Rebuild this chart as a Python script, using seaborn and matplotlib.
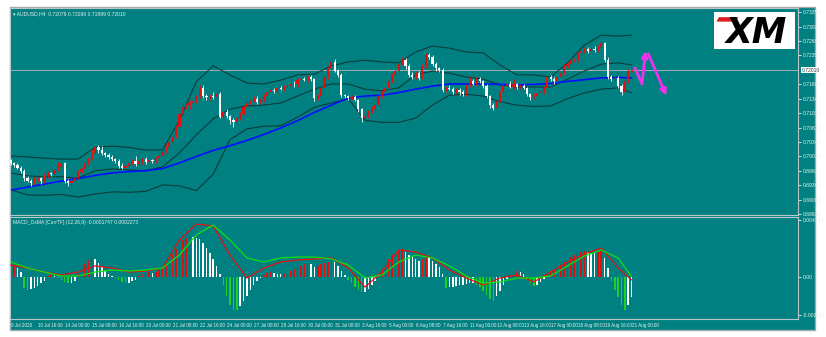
import numpy as np
import pandas as pd
import matplotlib
matplotlib.use("Agg")
import matplotlib.pyplot as plt
import seaborn as sns
from matplotlib.patches import Rectangle, Polygon

# ---------------- data (prices in pips = 1e-4) ----------------
open0 = 6992
closes = [6986,6982,6975,6968,6950,6945,6940,6948,6950,6944,6955,6963,6960,6970,6977,6985,6945,6940,6945,6952,
          6965,6972,6985,6995,7010,7023,7015,7009,7005,7000,6995,6990,6980,6975,6978,6985,6990,6983,6990,6995,
          6988,6992,6990,6998,7003,7012,7023,7035,7046,7070,7100,7116,7120,7125,7130,7140,7160,7140,7138,7142,
          7139,7145,7092,7105,7095,7085,7080,7090,7100,7115,7125,7130,7135,7128,7132,7140,7150,7155,7152,7160,
          7158,7162,7165,7170,7168,7178,7180,7178,7185,7180,7136,7140,7160,7185,7205,7220,7200,7190,7143,7140,
          7136,7138,7132,7110,7090,7095,7105,7112,7120,7140,7150,7160,7175,7190,7200,7215,7224,7210,7190,7185,
          7195,7183,7210,7236,7231,7215,7205,7201,7155,7160,7158,7150,7155,7150,7145,7165,7175,7170,7180,7175,
          7165,7140,7120,7113,7130,7150,7165,7170,7162,7168,7162,7165,7160,7145,7139,7142,7148,7150,7160,7185,
          7180,7175,7185,7195,7210,7215,7224,7225,7240,7245,7250,7245,7250,7248,7255,7264,7225,7185,7180,7183,
          7165,7150,7175,7200,7201]
wick_up = [4,3,5,3,4,6,3,5,4,3,8,4,3,5,12,6,4,3,5,4,
           5,4,6,5,8,5,4,10,3,4,5,3,4,6,3,4,5,12,4,3,
           4,5,3,4,5,3,6,4,5,4,5,8,4,6,5,4,7,6,5,4,
           8,5,6,4,5,3,4,4,5,6,4,3,5,6,4,5,3,6,4,5,
           4,5,6,4,7,5,4,6,4,5,3,5,4,6,4,5,6,4,5,3,
           4,5,6,3,4,6,4,5,4,6,5,4,4,5,6,5,7,4,5,6,
           4,5,6,5,4,5,4,3,5,4,6,4,5,4,6,4,12,5,4,5,
           4,3,4,5,6,4,5,4,5,12,4,5,4,3,4,5,6,4,5,4,
           5,4,5,4,6,5,4,5,4,6,4,5,4,6,4,5,3,6,4,5,
           4,3,5,4,3]
wick_dn = [4,5,3,6,5,4,8,4,5,6,4,3,5,4,3,5,6,8,4,5,
           4,3,5,4,3,4,5,4,6,5,4,3,5,4,6,4,3,5,4,6,
           5,4,3,5,4,3,4,5,4,3,5,4,6,8,5,4,3,4,5,6,
           4,5,3,6,5,8,10,5,4,3,5,4,3,5,6,4,5,3,4,5,
           4,5,3,4,5,6,4,3,5,4,6,5,4,3,4,5,4,6,5,4,
           5,4,3,6,8,5,4,3,5,4,3,5,4,3,4,5,3,6,4,5,
           4,5,3,4,5,4,6,4,5,4,3,5,4,6,5,4,3,4,5,4,
           5,4,6,5,4,3,4,5,3,4,5,4,3,5,6,4,5,3,4,5,
           4,5,3,4,5,4,3,5,4,3,4,5,3,4,5,4,6,5,4,5,
           5,6,10,4,3]
# indicator lines, sampled every 5 bars (last at bar 184)
line_idx = list(range(0, 185, 5)) + [184]
bb_upper = [7002,7000,6997,6995,6995,7022,7025,7022,7016,7016,7085,7174,7211,7190,7171,7169,7178,7190,7192,7211,
            7220,7224,7220,7218,7243,7257,7252,7243,7241,7213,7190,7190,7185,7218,7259,7282,7280,7282]
bb_mid = [6963,6956,6954,6954,6951,6968,6972,6970,6968,6977,7009,7051,7088,7111,7118,7120,7125,7141,7157,7169,
          7169,7157,7153,7160,7190,7199,7194,7185,7180,7167,7162,7162,7162,7180,7199,7215,7218,7213]
bb_lower = [6924,6912,6911,6913,6907,6914,6919,6918,6920,6935,6933,6922,6960,7040,7065,7071,7072,7092,7115,7125,
            7135,7085,7080,7080,7090,7120,7143,7145,7141,7128,7120,7117,7118,7135,7148,7157,7160,7148]
ma_blue = [6923,6930,6937,6944,6950,6957,6963,6966,6968,6973,6986,7001,7015,7026,7038,7052,7067,7084,7103,7120,
           7136,7141,7143,7149,7157,7164,7169,7169,7169,7168,7167,7168,7170,7175,7179,7183,7184,7183]
# MACD panel (units 1e-5)
macd_hist = [60,90,70,40,-90,-100,-95,-85,-70,-50,-30,10,20,10,-10,-25,-40,-50,-45,-30,
             20,60,100,130,150,140,110,80,50,25,5,-10,-25,-40,-50,-45,-35,-20,10,20,
             30,40,30,40,55,70,100,140,180,220,260,290,310,320,315,310,300,270,230,190,
             140,90,20,-60,-150,-220,-260,-260,-230,-190,-150,-100,-60,-30,-5,15,30,40,35,25,
             20,25,35,50,65,80,90,100,110,100,80,90,100,110,120,130,115,90,50,15,
             -25,-50,-80,-105,-120,-115,-95,-65,-30,20,60,100,140,170,195,210,220,200,175,155,
             140,125,140,160,150,125,100,80,20,-90,-80,-75,-70,-65,-60,-55,-50,-45,-60,-80,
             -110,-140,-170,-190,-150,-110,-60,-15,15,40,50,40,25,-20,-50,-70,-60,-40,-15,25,
             45,60,75,95,115,135,155,170,185,195,205,200,190,185,195,210,150,70,-30,-100,
             -160,-220,-260,-220,-160]
macd_main = [94,71,39,16,39,87,71,39,47,71,291,417,401,173,-8,71,118,134,142,150,
             71,-79,39,212,197,150,55,-8,-63,-8,16,-39,39,118,181,228,71,-24]
macd_signal = [118,71,39,8,8,39,55,47,55,71,173,331,409,291,150,118,150,157,157,142,
               94,-8,16,118,173,150,87,8,-47,-39,-8,-8,8,87,165,212,150,0]

price_ticks = ["0.73350","0.73020","0.72680","0.72350","0.71680","0.71340","0.71010",
               "0.70670","0.70340","0.70010","0.69670","0.69340","0.69000","0.68670"]
last_price = "0.72010"
macd_ticks = ["0.004722", "0.00", "-0.003303"]
time_labels = ["9 Jul 2020","10 Jul 16:00","14 Jul 00:00","15 Jul 08:00","16 Jul 16:00","20 Jul 00:00",
               "21 Jul 08:00","22 Jul 16:00","24 Jul 00:00","27 Jul 08:00","28 Jul 16:00","30 Jul 00:00",
               "31 Jul 08:00","3 Aug 16:00","5 Aug 00:00","6 Aug 08:00","7 Aug 16:00","11 Aug 00:00",
               "12 Aug 08:00","13 Aug 16:00","17 Aug 00:00","18 Aug 08:00","19 Aug 16:00","21 Aug 00:00"]
title_main = "\u25be AUDUSD,H4  0.72079 0.72090 0.71999 0.72010"
title_macd = "MACD_OsMA [CurrTF] (12,26,9) -0.0001747 0.0002273"
# forecast zigzag drawn on chart (bar index, price)
forecast_up = [(185.0, 0.72060), (187.1, 0.71690), (188.2, 0.72520)]
forecast_down = [(188.6, 0.72450), (194.6, 0.71360)]

# ---------------- derived frames ----------------
c = np.array(closes) / 1e4
o = np.concatenate([[open0 / 1e4], c[:-1]])
hi = np.maximum(o, c) + np.array(wick_up) / 1e4
lo = np.minimum(o, c) - np.array(wick_dn) / 1e4
xb = np.arange(len(c))
lines = pd.DataFrame({"bar": line_idx,
                      "upper": np.array(bb_upper) / 1e4, "mid": np.array(bb_mid) / 1e4,
                      "lower": np.array(bb_lower) / 1e4, "ma": np.array(ma_blue) / 1e4,
                      "macd": np.array(macd_main) / 1e5, "signal": np.array(macd_signal) / 1e5})
hist = np.array(macd_hist) / 1e5

# ---------------- style ----------------
sns.set_style("dark")
plt.rcParams['font.family'] = ['Liberation Sans Narrow', 'Liberation Sans', 'DejaVu Sans']
TEAL = "#008080"
TXT = "#e6f2f2"
FRAME = "#b8c8c8"
FS = 3.6
FSX = 3.3

W, H = 826, 337
fig = plt.figure(figsize=(W / 100, H / 100), dpi=100)
fig.patch.set_facecolor("white")
fig.add_artist(Rectangle((10 / W, 1 - 330 / H), 805 / W, 323 / H, transform=fig.transFigure,
                         facecolor=TEAL, edgecolor="#a0aaaa", lw=1.0, zorder=0))

ax = fig.add_axes([10 / W, 1 - 215 / H, 788 / W, 207 / H])
ax2 = fig.add_axes([10 / W, 1 - 319 / H, 788 / W, 102 / H])
for a in (ax, ax2):
    a.set_facecolor(TEAL)
    a.grid(False)
    for s in a.spines.values():
        s.set_color(FRAME)
        s.set_linewidth(0.8)
    a.set_xlim(-0.2, 233.3)

# ---------------- main chart ----------------
ax.set_ylim(0.68654, 0.73450)
ax.axhline(float(last_price), color="#9fb0b0", lw=0.7, zorder=1)
for col, colr, lw in [("upper", "#0e3c3c", 0.8), ("mid", "#0e3c3c", 0.8), ("lower", "#0e3c3c", 0.8),
                      ("ma", "#0010ff", 1.2)]:
    sns.lineplot(data=lines, x="bar", y=col, ax=ax, color=colr, lw=lw, legend=False, zorder=2)

bull = c >= o
cols = np.where(bull, "#e01010", "#ffffff")
ax.vlines(xb, lo, hi, colors=cols, lw=0.6, zorder=3)
body_h = np.maximum(np.abs(c - o), 0.00004)
ax.bar(xb, body_h, bottom=np.minimum(o, c), width=0.65, color=cols, linewidth=0, zorder=4)

mag = "#f030f0"
ax.plot([p[0] for p in forecast_up[:2]], [p[1] for p in forecast_up[:2]], color=mag, lw=2.0,
        solid_capstyle="round", zorder=6)
ax.annotate("", xy=forecast_up[2], xytext=forecast_up[1],
            arrowprops=dict(arrowstyle="-|>", color=mag, lw=2.0, mutation_scale=9), zorder=6)
ax.annotate("", xy=forecast_down[1], xytext=forecast_down[0],
            arrowprops=dict(arrowstyle="-|>", color=mag, lw=2.0, mutation_scale=9), zorder=6)

ax.yaxis.tick_right()
ax.set_yticks([float(t) for t in price_ticks])
ax.set_yticklabels(price_ticks)
ax.tick_params(axis="y", colors=TXT, labelsize=FS, length=2, width=0.6, pad=1.2, direction="out")
ax.tick_params(axis="x", bottom=False, labelbottom=False)
ax.set_xlabel("")
ax.set_ylabel("")
ax.text(1.0042, float(last_price), last_price, transform=ax.get_yaxis_transform(), fontsize=FS,
        color="#204040", va="center", ha="left",
        bbox=dict(boxstyle="square,pad=0.15", fc="white", ec="none"))
ax.text(0.004, 0.985, title_main, transform=ax.transAxes, fontsize=FS, color=TXT, va="top", ha="left")

# XM logo
lx0, ly0, lx1, ly1 = 714, 12, 795, 49
logo_ax = fig.add_axes([lx0 / W, 1 - ly1 / H, (lx1 - lx0) / W, (ly1 - ly0) / H])
logo_ax.set_xlim(0, 1)
logo_ax.set_ylim(0, 1)
logo_ax.set_facecolor("white")
for s in logo_ax.spines.values():
    s.set_visible(False)
logo_ax.set_xticks([])
logo_ax.set_yticks([])
logo_ax.add_patch(Polygon([[0.06, 0.86], [0.30, 0.86], [0.27, 0.74], [0.03, 0.74]], closed=True,
                          fc="#d81e1e", ec="none"))
logo_ax.text(0.52, 0.42, "XM", fontsize=25, fontweight="heavy", fontstyle="italic", color="black",
             ha="center", va="center", family="DejaVu Sans")

# ---------------- MACD panel ----------------
ax2.set_ylim(-0.003305, 0.004722)
dh = np.diff(np.concatenate([[hist[0]], hist]))
hcol = np.where(hist >= 0, np.where(dh >= 0, "#e01010", "#ffffff"),
                np.where(dh <= 0, "#20d020", "#ffffff"))
ax2.bar(xb, hist, width=0.45, color=hcol, linewidth=0, zorder=2)
sns.lineplot(data=lines, x="bar", y="macd", ax=ax2, color="#e81010", lw=0.9, legend=False, zorder=3)
sns.lineplot(data=lines, x="bar", y="signal", ax=ax2, color="#10e010", lw=0.9, legend=False, zorder=3)
ax2.yaxis.tick_right()
ax2.set_yticks([0.00447, 0.0, -0.00302])
ax2.set_yticklabels(macd_ticks)
ax2.tick_params(axis="y", colors=TXT, labelsize=FS, length=2, width=0.6, pad=1.2)
ax2.set_xticks(np.arange(len(time_labels)) * 8)
ax2.set_xticklabels(time_labels, ha="left")
ax2.tick_params(axis="x", colors=TXT, labelsize=FSX, length=2, width=0.6, pad=1.0)
ax2.set_xlabel("")
ax2.set_ylabel("")
ax2.text(0.004, 0.97, title_macd, transform=ax2.transAxes, fontsize=FS, color=TXT, va="top", ha="left")

fig.savefig("out.png", dpi=100, facecolor=fig.get_facecolor())
